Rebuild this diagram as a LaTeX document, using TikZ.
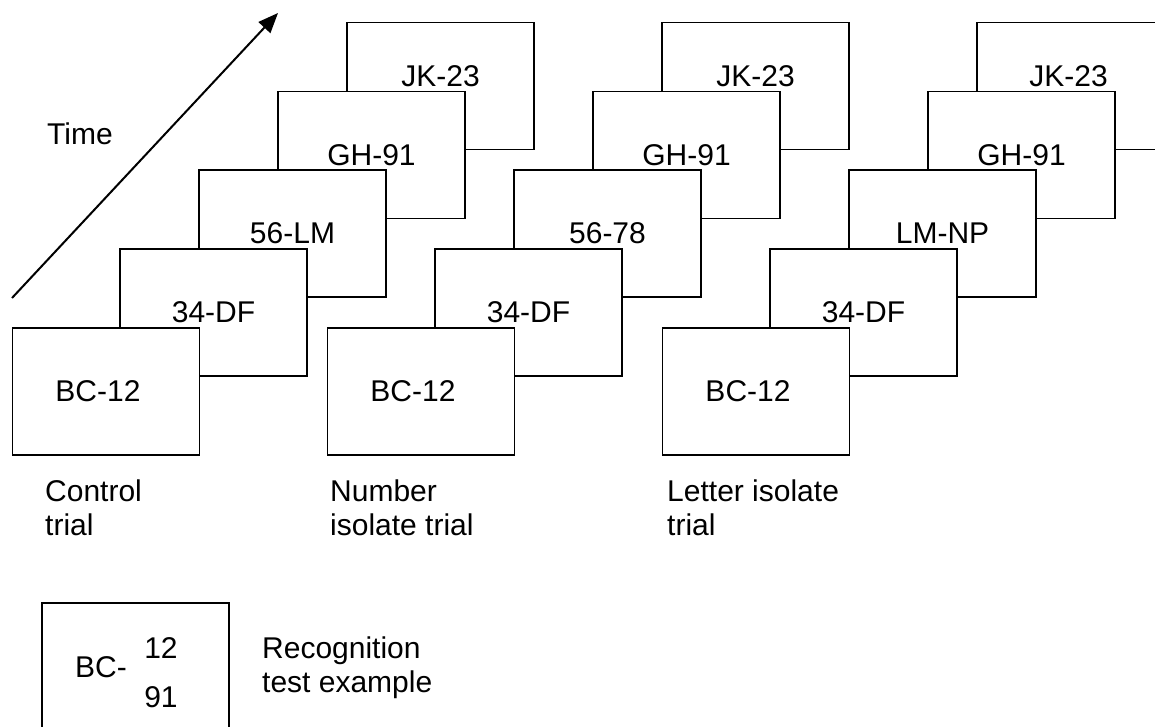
\documentclass[tikz,border=0pt]{standalone}
\usepackage{fontspec}
\setmainfont{Liberation Sans}
\usetikzlibrary{positioning,arrows.meta}

\begin{document}
\begin{tikzpicture}[x=1pt,y=-1pt,font=\fontsize{30}{34}\selectfont,
	card/.style={minimum width=187pt,minimum height=127pt,draw=black,fill=white,line width=1.8pt,inner sep=0pt},
	caption/.style={inner sep=0pt,align=left,anchor=north west}]
		\useasboundingbox (0,0) rectangle (1155,727);
		\clip (0,0) rectangle (1155,727);
		
		% control trial
		\node[card] (jk1) at (440.5,86) {};
		\node[inner sep=0pt] (jk1t) at ([yshift=10pt]jk1.center) {JK-23};
		\node[card,shift={(-69,69)}] (gh1) at (jk1.center) {GH-91};
		\node[card,shift={(-79,78.5)}] (lm1) at (gh1.center) {56-LM};
		\node[card,shift={(-79,79)}] (df1) at (lm1.center) {34-DF};
		\node[card,shift={(-107.5,79)}] (bc1) at (df1.center) {};
		\node[inner sep=0pt] (bc1t) at ([xshift=-8pt]bc1.center) {BC-12};
		
		% number isolate trial
		\node[card] (jk2) at (755.5,86) {};
		\node[inner sep=0pt] (jk2t) at ([yshift=10pt]jk2.center) {JK-23};
		\node[card,shift={(-69,69)}] (gh2) at (jk2.center) {GH-91};
		\node[card,shift={(-79,78.5)}] (nn2) at (gh2.center) {56-78};
		\node[card,shift={(-79,79)}] (df2) at (nn2.center) {34-DF};
		\node[card,shift={(-107.5,79)}] (bc2) at (df2.center) {};
		\node[inner sep=0pt] (bc2t) at ([xshift=-8pt]bc2.center) {BC-12};
		
		% letter isolate trial
		\node[card] (jk3) at (1070.5,86) {};
		\node[inner sep=0pt] (jk3t) at ([xshift=-2pt,yshift=10pt]jk3.center) {JK-23};
		\node[card,shift={(-49,69)}] (gh3) at (jk3.center) {GH-91};
		\node[card,shift={(-79,78.5)}] (ll3) at (gh3.center) {LM-NP};
		\node[card,shift={(-79,79)}] (df3) at (ll3.center) {34-DF};
		\node[card,shift={(-107.5,79)}] (bc3) at (df3.center) {};
		\node[inner sep=0pt] (bc3t) at ([xshift=-8pt]bc3.center) {BC-12};
		
		\node[caption] (cap1) at (45,480) {Control\\trial};
		\node[caption] (cap2) at (330,480) {Number\\isolate trial};
		\node[caption] (cap3) at (667,480) {Letter isolate\\trial};
		
		% time axis
		\coordinate (t0) at (12,298);
		\coordinate (t1) at (278,13);
		\draw[-{Triangle[length=20pt,width=16pt]},line width=2pt] (t0)--(t1);
		\node[inner sep=0pt,anchor=base west] (time) at (47,145) {Time};
		
		% recognition test
		\node[card] (rec) at (135.5,666.5) {};
		\node[inner sep=0pt] (recbc) at (101,667.5) {BC-};
		\node[inner sep=0pt] (rec12) at (161,648) {12};
		\node[inner sep=0pt] (rec91) at (161,697.5) {91};
		\node[caption] (cap4) at (262,637) {Recognition\\test example};
	\end{tikzpicture}
\end{document}
